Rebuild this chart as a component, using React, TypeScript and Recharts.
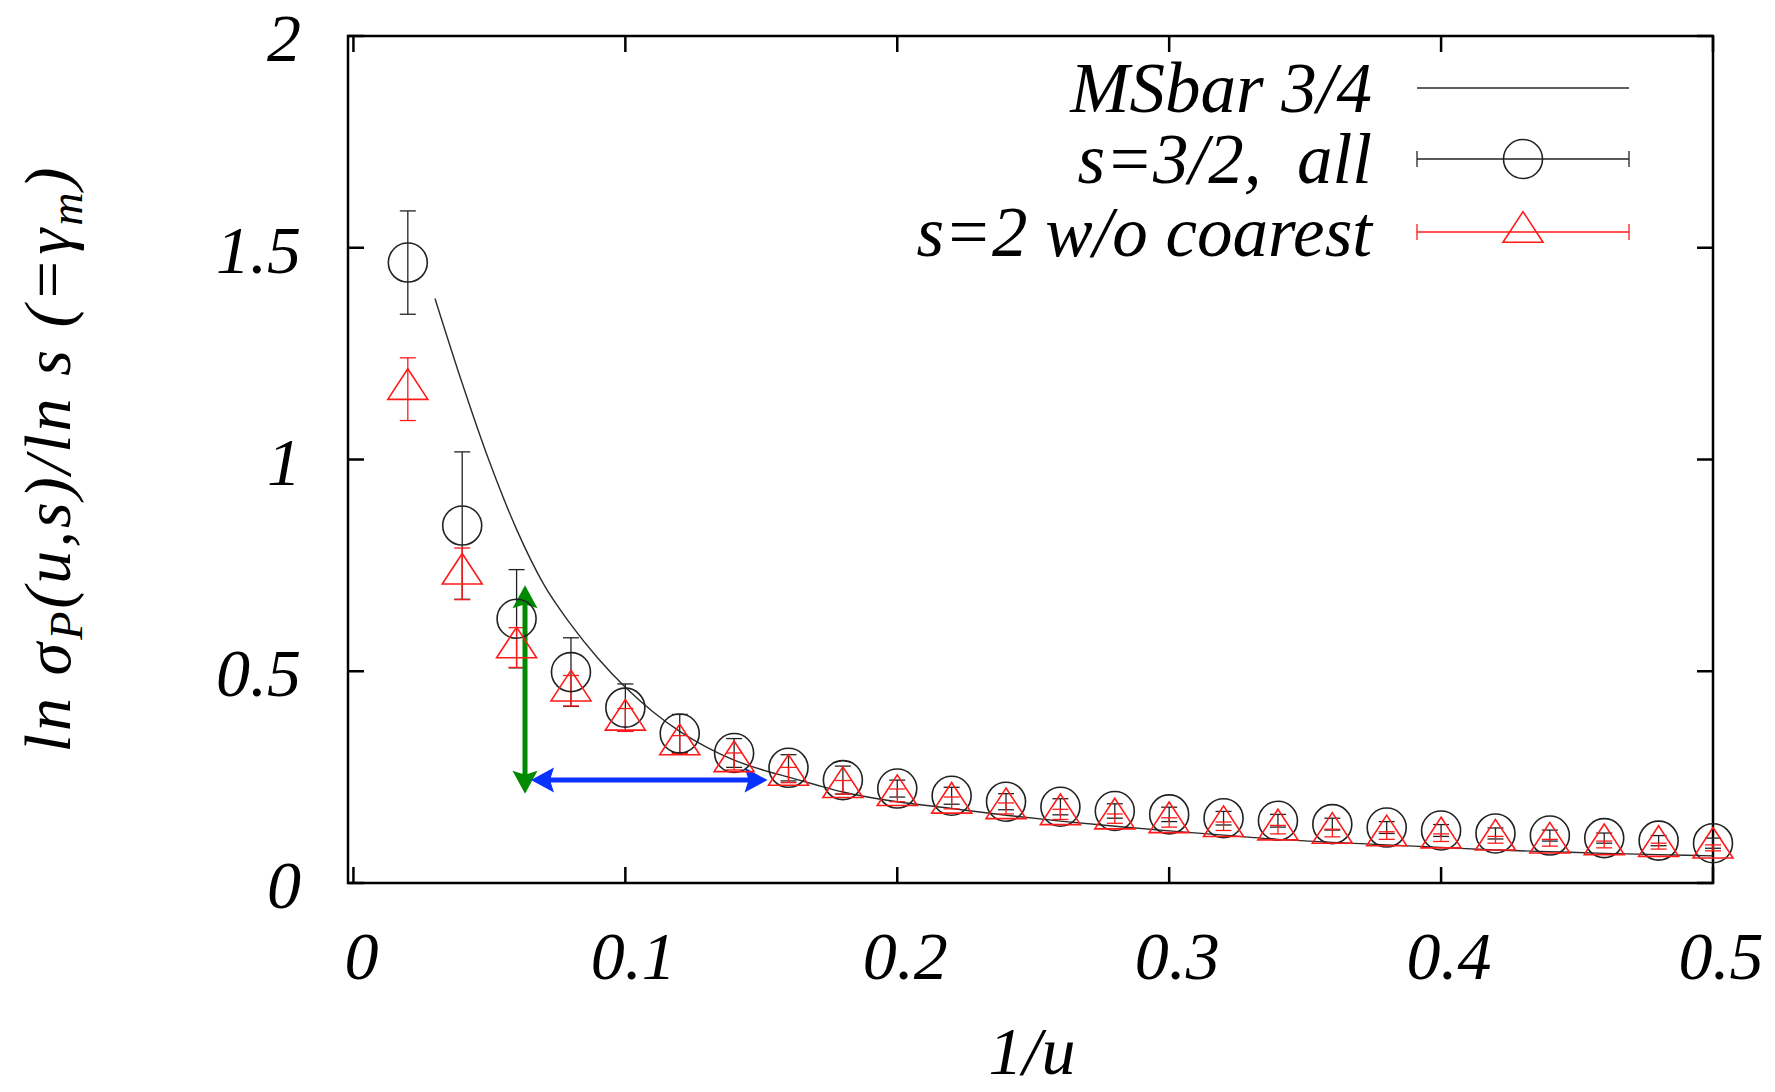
import React from 'react';
import {
  ComposedChart,
  Line,
  Scatter,
  ErrorBar,
  XAxis,
  YAxis,
  ReferenceArea,
  ReferenceLine,
} from 'recharts';

// 1/u values of the data points
const invU = [
  0.02, 0.04, 0.06, 0.08, 0.1, 0.12, 0.14, 0.16, 0.18, 0.2, 0.22, 0.24, 0.26,
  0.28, 0.3, 0.32, 0.34, 0.36, 0.38, 0.4, 0.42, 0.44, 0.46, 0.48, 0.5,
];

// s=3/2, all
const s32 = [
  1.465, 0.844, 0.624, 0.498, 0.414, 0.353, 0.307, 0.272, 0.243, 0.223, 0.206,
  0.192, 0.18, 0.17, 0.162, 0.153, 0.147, 0.139, 0.131, 0.124, 0.117, 0.112,
  0.106, 0.1, 0.094,
];
const s32Err = [
  0.122, 0.174, 0.116, 0.081, 0.056, 0.045, 0.034, 0.031, 0.033, 0.02, 0.02,
  0.019, 0.019, 0.017, 0.017, 0.016, 0.015, 0.014, 0.014, 0.014, 0.013, 0.013,
  0.012, 0.012, 0.012,
];

// s=2 w/o coarest
const s2 = [
  1.166, 0.73, 0.556, 0.454, 0.385, 0.327, 0.287, 0.255, 0.226, 0.207, 0.189,
  0.176, 0.162, 0.152, 0.143, 0.134, 0.126, 0.118, 0.112, 0.107, 0.102, 0.095,
  0.091, 0.087, 0.083,
];
const s2Err = [
  0.074, 0.061, 0.047, 0.036, 0.027, 0.021, 0.02, 0.018, 0.016, 0.015, 0.014,
  0.013, 0.012, 0.011, 0.011, 0.01, 0.01, 0.009, 0.009, 0.009, 0.008, 0.008,
  0.008, 0.007, 0.007,
];

// MSbar 3/4 curve
const msX = [
  0.03, 0.04, 0.05, 0.06, 0.07, 0.08, 0.09, 0.1, 0.11, 0.12, 0.13, 0.14, 0.15,
  0.16, 0.17, 0.18, 0.2, 0.22, 0.24, 0.26, 0.28, 0.3, 0.32, 0.34, 0.36, 0.38,
  0.4, 0.42, 0.44, 0.46, 0.48, 0.5,
];
const msY = [
  1.38, 1.18, 0.995, 0.835, 0.705, 0.61, 0.53, 0.462, 0.405, 0.358, 0.32, 0.29,
  0.268, 0.25, 0.232, 0.215, 0.192, 0.176, 0.16, 0.146, 0.134, 0.123, 0.113,
  0.103, 0.096, 0.09, 0.084, 0.078, 0.074, 0.07, 0.067, 0.064,
];

// annotation arrows
const greenArrowX = 0.0631;
const greenArrowY = [0.211, 0.703];
const blueArrowY = 0.243;
const blueArrowX = [0.0653, 0.1523];

const xTicks = [0, 0.1, 0.2, 0.3, 0.4, 0.5];
const xTickLabels = ['0', '0.1', '0.2', '0.3', '0.4', '0.5'];
const yTicks = [0, 0.5, 1, 1.5, 2];
const yTickLabels = ['0', '0.5', '1', '1.5', '2'];

const legendLabels = ['MSbar 3/4', 's=3/2,  all', 's=2 w/o coarest'];

const W = 1775;
const H = 1092;
const PLOT = { left: 348, right: 1713, top: 36, bottom: 883 };
const FONT = '"Liberation Serif", "DejaVu Serif", serif';
const RED = '#ff1a1a';
const DARK = '#222';
const TICK = 16;

const circData = invU.map((x, i) => ({ x, y: s32[i], e: s32Err[i] }));
const triData = invU.map((x, i) => ({ x, y: s2[i], e: s2Err[i] }));
const msData = msX.map((x, i) => ({ x, y: msY[i] }));

const XTick = (props: any) => {
  const { x, payload } = props;
  const idx = xTicks.indexOf(payload.value);
  return (
    <g>
      <line x1={x} x2={x} y1={PLOT.bottom} y2={PLOT.bottom - TICK} stroke="#000" strokeWidth={2.5} />
      <line x1={x} x2={x} y1={PLOT.top} y2={PLOT.top + TICK} stroke="#000" strokeWidth={2.5} />
      <text x={x + 8} y={979} textAnchor="middle" fontFamily={FONT} fontStyle="italic" fontSize={68} fill="#000">
        {xTickLabels[idx]}
      </text>
    </g>
  );
};

const YTick = (props: any) => {
  const { y, payload } = props;
  const idx = yTicks.indexOf(payload.value);
  return (
    <g>
      <line x1={PLOT.left} x2={PLOT.left + TICK} y1={y} y2={y} stroke="#000" strokeWidth={2.5} />
      <line x1={PLOT.right} x2={PLOT.right - TICK} y1={y} y2={y} stroke="#000" strokeWidth={2.5} />
      <text x={301} y={y + 25} textAnchor="end" fontFamily={FONT} fontStyle="italic" fontSize={68} fill="#000">
        {yTickLabels[idx]}
      </text>
    </g>
  );
};

const CircleDot = (props: any) => {
  const { cx, cy } = props;
  if (cx == null || cy == null) return null;
  return <circle cx={cx} cy={cy} r={19.5} fill="none" stroke={DARK} strokeWidth={1.6} />;
};

const TriangleDot = (props: any) => {
  const { cx, cy } = props;
  if (cx == null || cy == null) return null;
  const pts = `${cx},${cy - 20.4} ${cx - 20},${cy + 10.2} ${cx + 20},${cy + 10.2}`;
  return <polygon points={pts} fill="none" stroke={RED} strokeWidth={1.6} />;
};

function arrowShape(color: string, thick: number) {
  return (props: any) => {
    const { x1, y1, x2, y2 } = props;
    const dx = x2 - x1;
    const dy = y2 - y1;
    const len = Math.sqrt(dx * dx + dy * dy) || 1;
    const ux = dx / len;
    const uy = dy / len;
    const headL = 23;
    const headW = 12.5;
    const head = (tx: number, ty: number, dir: number) => {
      const bx = tx - dir * ux * headL;
      const by = ty - dir * uy * headL;
      const nx = -uy * headW;
      const ny = ux * headW;
      return `${tx},${ty} ${bx + nx},${by + ny} ${bx + dir * ux * 4},${by + dir * uy * 4} ${bx - nx},${by - ny}`;
    };
    return (
      <g>
        <line
          x1={x1 + ux * 10}
          y1={y1 + uy * 10}
          x2={x2 - ux * 10}
          y2={y2 - uy * 10}
          stroke={color}
          strokeWidth={thick}
        />
        <polygon points={head(x1, y1, -1)} fill={color} />
        <polygon points={head(x2, y2, 1)} fill={color} />
      </g>
    );
  };
}

export default function App() {
  const rowY = [88, 159, 232];
  const sx1 = 1417;
  const sx2 = 1629;
  const mx = 1523;
  return (
    <div style={{ position: 'absolute', left: 0, top: 0, width: W, height: H, background: '#fff' }}>
      <ComposedChart
        width={W}
        height={H}
        margin={{ top: PLOT.top, right: W - PLOT.right, bottom: H - PLOT.bottom - 1, left: PLOT.left - 1 }}
      >
        <XAxis
          type="number"
          dataKey="x"
          domain={[-0.002, 0.5]}
          ticks={xTicks}
          interval={0}
          height={1}
          axisLine={false}
          tickLine={false}
          tick={<XTick />}
        />
        <YAxis
          type="number"
          dataKey="y"
          domain={[0, 2]}
          ticks={yTicks}
          interval={0}
          width={1}
          axisLine={false}
          tickLine={false}
          tick={<YTick />}
        />
        <ReferenceArea
          x1={-0.002}
          x2={0.5}
          y1={0}
          y2={2}
          fill="none"
          fillOpacity={0}
          stroke="#000"
          strokeWidth={2.5}
          ifOverflow="visible"
        />
        <Line
          data={msData}
          dataKey="y"
          type="monotone"
          stroke="#2a2a2a"
          strokeWidth={1.4}
          dot={false}
          activeDot={false}
          isAnimationActive={false}
        />
        <Scatter data={circData} dataKey="y" shape={<CircleDot />} isAnimationActive={false}>
          <ErrorBar dataKey="e" direction="y" width={8} stroke={DARK} strokeWidth={1.3} isAnimationActive={false} />
        </Scatter>
        <Scatter data={triData} dataKey="y" shape={<TriangleDot />} isAnimationActive={false}>
          <ErrorBar dataKey="e" direction="y" width={8} stroke={RED} strokeWidth={1.3} isAnimationActive={false} />
        </Scatter>
        <ReferenceLine
          segment={[
            { x: greenArrowX, y: greenArrowY[0] },
            { x: greenArrowX, y: greenArrowY[1] },
          ]}
          shape={arrowShape('#008a00', 5)}
        />
        <ReferenceLine
          segment={[
            { x: blueArrowX[0], y: blueArrowY },
            { x: blueArrowX[1], y: blueArrowY },
          ]}
          shape={arrowShape('#0a32ff', 5)}
        />
      </ComposedChart>

      <svg
        width={W}
        height={H}
        style={{ position: 'absolute', left: 0, top: 0, pointerEvents: 'none' }}
      >
        {/* legend */}
        {legendLabels.map((t, i) => (
          <text
            key={t}
            x={1372}
            y={rowY[i] + 24}
            textAnchor="end"
            fontFamily={FONT}
            fontStyle="italic"
            fontSize={71}
            fill="#000"
            style={{ whiteSpace: 'pre' }}
          >
            {t}
          </text>
        ))}
        <line x1={sx1} x2={sx2} y1={rowY[0]} y2={rowY[0]} stroke="#2a2a2a" strokeWidth={1.4} />
        <g stroke={DARK} strokeWidth={1.3}>
          <line x1={sx1} x2={sx2} y1={rowY[1]} y2={rowY[1]} />
          <line x1={sx1} x2={sx1} y1={rowY[1] - 8} y2={rowY[1] + 8} />
          <line x1={sx2} x2={sx2} y1={rowY[1] - 8} y2={rowY[1] + 8} />
        </g>
        <circle cx={mx} cy={rowY[1]} r={19.5} fill="none" stroke={DARK} strokeWidth={1.6} />
        <g stroke={RED} strokeWidth={1.3}>
          <line x1={sx1} x2={sx2} y1={rowY[2]} y2={rowY[2]} />
          <line x1={sx1} x2={sx1} y1={rowY[2] - 8} y2={rowY[2] + 8} />
          <line x1={sx2} x2={sx2} y1={rowY[2] - 8} y2={rowY[2] + 8} />
        </g>
        <polygon
          points={`${mx},${rowY[2] - 20.4} ${mx - 20},${rowY[2] + 10.2} ${mx + 20},${rowY[2] + 10.2}`}
          fill="none"
          stroke={RED}
          strokeWidth={1.6}
        />

        {/* axis labels */}
        <text
          x={1032}
          y={1074}
          textAnchor="middle"
          fontFamily={FONT}
          fontStyle="italic"
          fontSize={68}
          fill="#000"
        >
          1/u
        </text>
        <text
          transform="translate(70,460) rotate(-90)"
          textAnchor="middle"
          fontFamily={FONT}
          fontStyle="italic"
          fontSize={66}
          fill="#000"
          textLength={585}
          lengthAdjust="spacing"
          style={{ whiteSpace: 'pre' }}
        >
          <tspan>ln σ</tspan>
          <tspan fontSize={46} dy={12}>P</tspan>
          <tspan dy={-12}>(u,s)/ln s (=γ</tspan>
          <tspan fontSize={46} dy={12}>m</tspan>
          <tspan dy={-12}>)</tspan>
        </text>
      </svg>
    </div>
  );
}
